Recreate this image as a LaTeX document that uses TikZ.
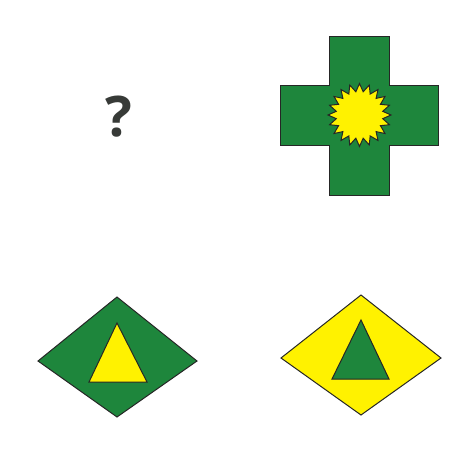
\documentclass[tikz,border=0pt]{standalone}
\usepackage{fontspec}
\setmainfont{Open Sans}
\definecolor{pgreen}{RGB}{30,134,60}
\definecolor{pyellow}{RGB}{255,242,0}
\definecolor{qgray}{RGB}{55,58,55}
\begin{document}
\begin{tikzpicture}[x=1pt,y=-1pt,
  outl/.style={draw=black!85,line width=1pt,line join=miter}]
\useasboundingbox (0,0) rectangle (476,473);
% question mark
\node[text=qgray,font=\fontsize{56}{60}\selectfont\bfseries,inner sep=0pt] (q) at (119,117) {?};
% cross
\path[outl,fill=pgreen] (329,37) -- (389,37) -- (389,86) -- (438,86) -- (438,146) -- (389,146)
  -- (389,195) -- (329,195) -- (329,146) -- (280,146) -- (280,86) -- (329,86) -- cycle;
% star
\path[outl,fill=pyellow,shift={(359.5,115)}] (90:31.5)
  \foreach \i in {1,...,39} { -- ({90+\i*9}:{ifthenelse(mod(\i,2)==0,31.5,23.5)}) } -- cycle;
% diamond 1
\path[outl,fill=pgreen] (117,297) -- (197,361) -- (117,417) -- (38,361) -- cycle;
\path[outl,fill=pyellow] (117,323) -- (147,382) -- (89,382) -- cycle;
% diamond 2
\path[outl,fill=pyellow] (361,295) -- (441,358) -- (361,415) -- (281,358) -- cycle;
\path[outl,fill=pgreen] (361,320) -- (389,379) -- (332,379) -- cycle;
\end{tikzpicture}
\end{document}
